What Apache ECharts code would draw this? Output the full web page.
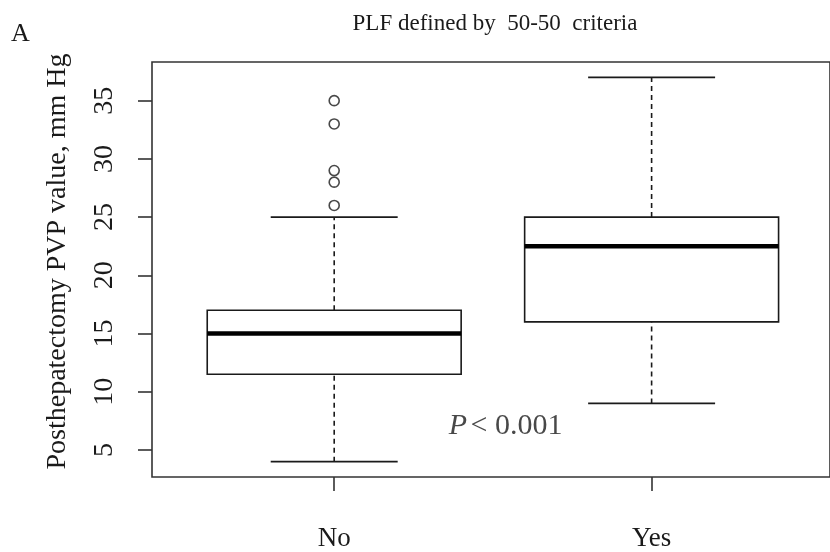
<!DOCTYPE html>
<html>
<head>
<meta charset="utf-8">
<script src="https://cdn.jsdelivr.net/npm/echarts@6/dist/echarts.min.js"></script>
<style>
html,body{margin:0;padding:0;background:#fff;}
#chart{width:830px;height:552px;}
</style>
</head>
<body>
<div id="chart"></div>
<script>
// ---- data ----
const categories = ['No', 'Yes'];
const lowerWhisker = [4, 9];
const lowerQuartile = [11.5, 16];
const medians = [15, 22.5];
const upperQuartile = [17, 25];
const upperWhisker = [25, 37];
const outliersNo = [26, 28, 29, 33, 35];
const outliersYes = [];
const yTicks = [5, 10, 15, 20, 25, 30, 35];
const titleText = 'PLF defined by  50-50  criteria';
const yAxisTitle = 'Posthepatectomy PVP value, mm Hg';
const pText = '< 0.001';

const FONT = '"Liberation Serif", "DejaVu Serif", serif';
const INK = '#1a1a1a';

const boxData = categories.map((c, i) => [i + 1, lowerWhisker[i], lowerQuartile[i], medians[i], upperQuartile[i], upperWhisker[i]]);
const outlierData = [];
outliersNo.forEach(v => outlierData.push([1, v]));
outliersYes.forEach(v => outlierData.push([2, v]));

const chart = echarts.init(document.getElementById('chart'), null, {renderer: 'canvas'});

function renderBox(params, api) {
  const x = api.value(0);
  const lo = api.value(1), q1 = api.value(2), md = api.value(3), q3 = api.value(4), hi = api.value(5);
  const L = api.coord([x - 0.4, q1]);
  const R = api.coord([x + 0.4, q3]);
  const cL = api.coord([x - 0.2, lo]);
  const cR = api.coord([x + 0.2, hi]);
  const pLo = api.coord([x, lo]);
  const pHi = api.coord([x, hi]);
  const pQ1 = api.coord([x, q1]);
  const pQ3 = api.coord([x, q3]);
  const pMd = api.coord([x, md]);
  const thin = {stroke: INK, lineWidth: 1.6, fill: null};
  return {
    type: 'group',
    children: [
      {type: 'line', shape: {x1: pLo[0], y1: pLo[1], x2: pQ1[0], y2: pQ1[1]}, style: {stroke: INK, lineWidth: 1.6, lineDash: [5, 4]}},
      {type: 'line', shape: {x1: pQ3[0], y1: pQ3[1], x2: pHi[0], y2: pHi[1]}, style: {stroke: INK, lineWidth: 1.6, lineDash: [5, 4]}},
      {type: 'line', shape: {x1: cL[0], y1: pLo[1], x2: cR[0], y2: pLo[1]}, style: thin},
      {type: 'line', shape: {x1: cL[0], y1: pHi[1], x2: cR[0], y2: pHi[1]}, style: thin},
      {type: 'rect', shape: {x: L[0], y: R[1], width: R[0] - L[0], height: L[1] - R[1]}, style: {stroke: INK, lineWidth: 1.6, fill: '#fff'}},
      {type: 'line', shape: {x1: L[0], y1: pMd[1], x2: R[0], y2: pMd[1]}, style: {stroke: '#000', lineWidth: 4.5}}
    ]
  };
}

chart.setOption({
  animation: false,
  backgroundColor: '#fff',
  title: {
    text: titleText,
    left: 490, top: 7, textAlign: 'center',
    textStyle: {fontFamily: FONT, fontSize: 23, fontWeight: 'normal', color: '#1a1a1a'}
  },
  graphic: [
    {type: 'text', left: 11, top: 21, style: {text: 'A', font: '26px ' + FONT, fill: '#1a1a1a'}}
  ],
  grid: {left: 152, right: 0, top: 62, bottom: 75, show: true, borderColor: '#333', borderWidth: 1.6, backgroundColor: 'transparent'},
  xAxis: {
    type: 'value', min: 0.426, max: 2.562,
    axisLine: {show: false},
    splitLine: {show: false},
    axisTick: {show: true, customValues: [1, 2], length: 14, lineStyle: {color: '#333', width: 1.6}},
    axisLabel: {
      customValues: [1, 2], margin: 48,
      formatter: v => categories[Math.round(v) - 1] || '',
      fontFamily: FONT, fontSize: 27, color: '#1a1a1a'
    }
  },
  yAxis: {
    type: 'value', min: 2.68, max: 38.32,
    name: yAxisTitle, nameLocation: 'middle', nameRotate: 90, nameGap: 80,
    nameTextStyle: {fontFamily: FONT, fontSize: 28, color: '#1a1a1a', padding: [0, 0, 0, 16]},
    axisLine: {show: false},
    splitLine: {show: false},
    axisTick: {show: true, customValues: yTicks, length: 14, lineStyle: {color: '#333', width: 1.6}},
    axisLabel: {customValues: yTicks, rotate: 90, margin: 33, fontFamily: FONT, fontSize: 28, color: '#1a1a1a'}
  },
  series: [
    {
      type: 'custom', renderItem: renderBox, data: boxData, z: 2,
      encode: {x: 0, y: [1, 2, 3, 4, 5]}, silent: true
    },
    {
      type: 'scatter', data: outlierData, symbol: 'circle', symbolSize: 10, z: 3,
      itemStyle: {color: '#fff', borderColor: INK, borderWidth: 1.6}, silent: true
    },
    {
      type: 'scatter', data: [[1.54, 7.05]], symbolSize: 0, z: 4, silent: true,
      label: {
        show: true, position: 'inside',
        formatter: '{p|P} {t|' + pText + '}',
        rich: {
          p: {fontFamily: FONT, fontStyle: 'italic', fontSize: 30, color: '#1a1a1a'},
          t: {fontFamily: FONT, fontSize: 30, color: '#1a1a1a'}
        }
      }
    }
  ]
});
</script>
</body>
</html>
